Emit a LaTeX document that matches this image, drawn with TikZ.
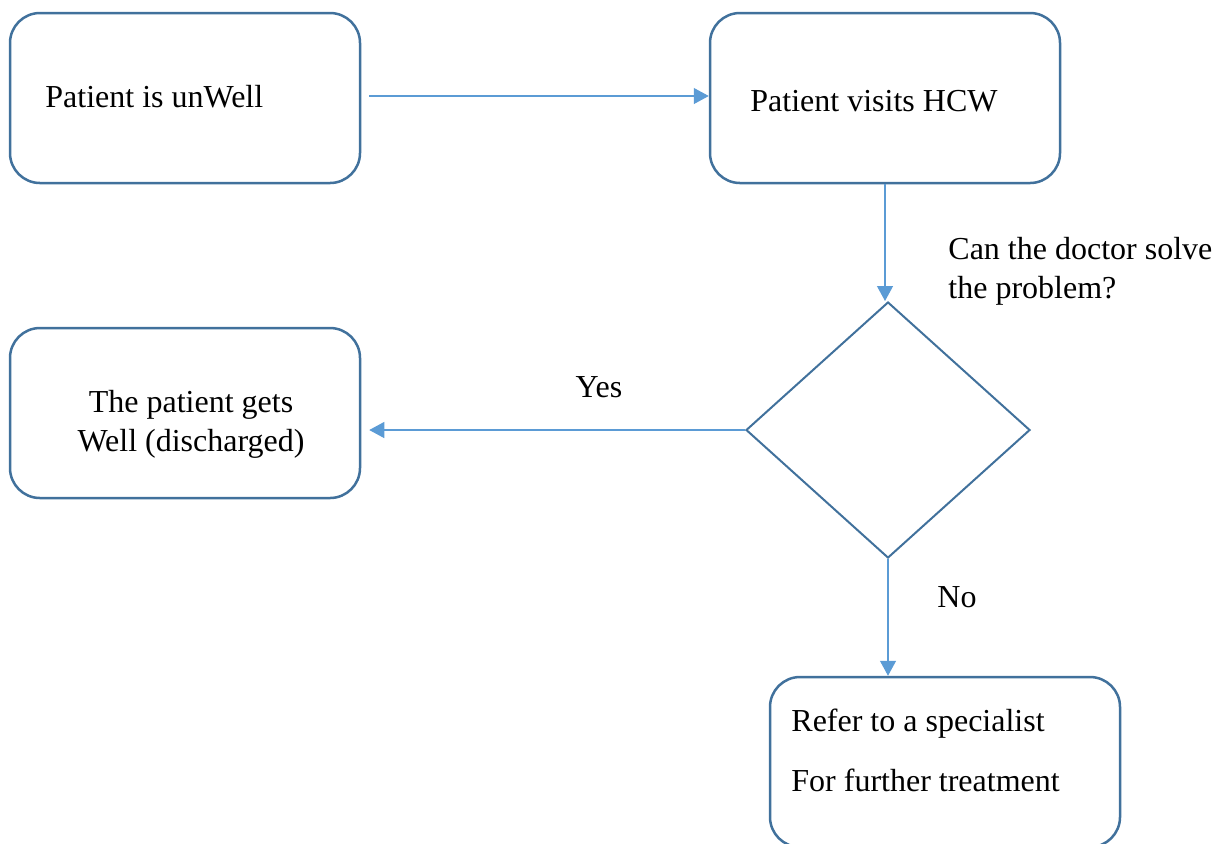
\documentclass[tikz,border=0pt]{standalone}
\usepackage{fontspec}
\setmainfont{Liberation Serif}
\usetikzlibrary{shapes.geometric,arrows.meta}
\definecolor{boxblue}{HTML}{41719C}
\definecolor{arrblue}{HTML}{5B9BD5}
\begin{document}
\begin{tikzpicture}[x=0.5pt,y=-0.5pt,
 box/.style={draw=boxblue,line width=1.25pt,rounded corners=15pt,minimum width=175pt,minimum height=85pt,inner sep=0pt},
 dec/.style={draw=boxblue,line width=1pt,shape=diamond,minimum width=142pt,minimum height=128pt,inner sep=0pt},
 arr/.style={draw=arrblue,line width=0.6pt,-{Triangle[length=7.5pt,width=8pt]}},
 txt/.style={inner sep=0pt,font=\fontsize{16}{19.5}\selectfont,text=black}]
\useasboundingbox (0,0) rectangle (1218,843);
\node[box] (b1) at (185,98) {};
\node[box] (b2) at (885,98) {};
\node[box] (b3) at (185,413) {};
\node[dec] (d) at (888,430) {};
\node[box] (b4) at (945,762) {};
\node[txt,anchor=base west] (t1) at (45,107) {Patient is unWell};
\node[txt,anchor=base west] (t2) at (750,111) {Patient visits HCW};
\node[txt,anchor=base west] (q1) at (948,259) {Can the doctor solve};
\node[txt,anchor=base west] (q2) at (948,298) {the problem?};
\node[txt,anchor=base] (yes) at (599,397) {Yes};
\node[txt,anchor=base] (t3a) at (191,412) {The patient gets};
\node[txt,anchor=base] (t3b) at (191,451) {Well (discharged)};
\node[txt,anchor=base west] (no) at (937,607) {No};
\node[txt,anchor=base west] (t4a) at (791,731) {Refer to a specialist};
\node[txt,anchor=base west] (t4b) at (791,791) {For further treatment};
\coordinate (s1) at ([shift={(8,-2)}]b1.east);
\draw[arr] (s1) -- (s1 -| b2.west);
\draw[arr] (b2.south) -- (b2.south |- d.north);
\coordinate (yl) at (d.west -| b3.east);
\draw[arr] (d.west) -- ([xshift=4pt]yl);
\draw[arr] (d.south) -- (d.south |- b4.north);
\end{tikzpicture}
\end{document}
